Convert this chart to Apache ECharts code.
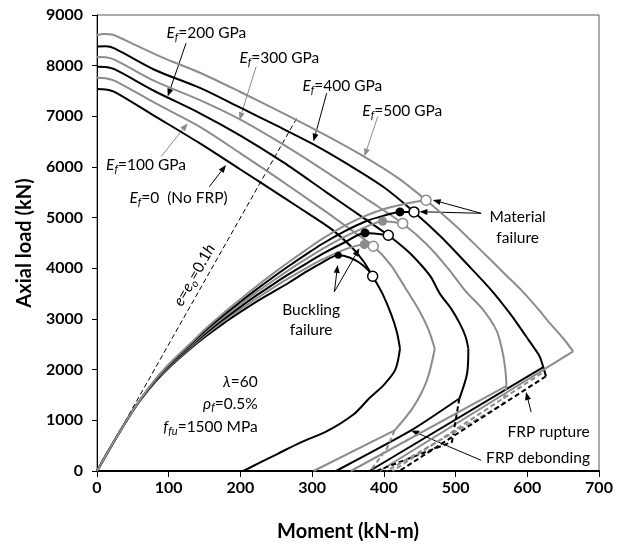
<!DOCTYPE html>
<html>
<head>
<meta charset="utf-8">
<script src="https://cdn.jsdelivr.net/npm/echarts@6/dist/echarts.min.js"></script>
<style>
html, body { margin: 0; padding: 0; background: #ffffff; }
#chart { width: 618px; height: 548px; }
</style>
</head>
<body>
<div id="chart"></div>
<script>
// Axis ticks
const momentTicks = [0, 100, 200, 300, 400, 500, 600, 700];
const loadTicks = [0, 1000, 2000, 3000, 4000, 5000, 6000, 7000, 8000, 9000];

// Section interaction curves (M in kN-m, P in kN), upper branch down to the max-moment tip
const sec0Upper = [[0,7540],[12,7530],[25,7480],[80,7010],[143.6,6465],[200,5950],[260,5400],[300,5030],[330,4740],[355,4420],[372,4130],[384.4,3843],[398,3500],[410,3100],[418,2750],[422.5,2414]];
const sec100Upper = [[0,7760],[12,7750],[25,7700],[80,7270],[143.6,6793],[200,6270],[260,5700],[320,5110],[360,4700],[386.7,4422],[410,4060],[432,3566],[450,3150],[462,2800],[471,2414]];
const sec200Upper = [[0,7980],[12,7972],[25,7925],[80,7500],[143.6,7060],[200,6620],[260,6090],[320,5500],[370,5010],[406.2,4653],[430,4380],[446,4159],[465,3840],[478,3501],[494,3200],[506,2908],[514,2650],[517.8,2414]];
const sec300Upper = [[0,8170],[12,8165],[25,8115],[80,7700],[143.6,7320],[200,6935],[260,6440],[320,5900],[380,5330],[426.3,4884],[460,4470],[490,3990],[513,3566],[539,3171],[557,2776],[564,2446],[569,2051],[571,1680]];
const sec400Upper = [[0,8380],[12,8382],[25,8335],[80,7920],[143.6,7560],[200,7170],[250,6820],[300,6460],[350,6050],[400,5600],[442,5114],[480,4620],[515,4100],[550,3566],[576,3105],[599,2644],[612,2380],[617.7,2249],[622.3,2051],[626,1870]];
const sec500Upper = [[0,8600],[10,8625],[22,8610],[50,8430],[90,8170],[143.6,7860],[200,7480],[260,7060],[320,6620],[373.7,6195],[420,5780],[459,5345],[500,4840],[540,4290],[570,3870],[592,3566],[615,3200],[632,2908],[650,2620],[664,2361]];

// Lower branches: FRP debonding (solid) and FRP rupture (dashed)
const sec0Lower = [[422.5,2414],[416,2000],[400,1700],[380,1440],[358,1120],[320,780],[285,570],[252,340],[204,0]];
const sec100Lower = [[471,2414],[460,1790],[441,1261],[415,800]];
const sec200Lower = [[517.8,2414],[516,1920],[505.3,1430]];
const sec100Debond = [[415,800],[302,0]];
const sec200Debond = [[505.3,1430],[438,800],[333.4,0]];
const sec300Debond = [[571,1680],[354,0]];
const sec400Debond = [[622.3,2051],[380,0]];
const sec500Debond = [[664,2361],[394,0]];
const sec100Rupture = [[415,800],[404,440],[381,0]];
const sec200Rupture = [[505.3,1430],[494.9,573],[389.4,0]];
const sec300Rupture = [[571,1680],[566,1320],[404,0]];
const sec400Rupture = [[626,1870],[421.7,0]];
const sec500Rupture = [[620,1930],[412,0]];

// Load paths of the slender column (lambda = 60) starting from the origin
const path0 = [[0,0],[20,495],[45,1075],[60,1390],[82,1770],[105,2100],[129,2400],[150,2640],[175,2900],[200,3140],[222,3340],[245,3530],[268,3720],[288,3900],[312,4100],[336.5,4258],[352,4215],[366,4110],[377,3980],[384.4,3843]];
const path100 = [[0,0],[20,495],[45,1078],[60,1393],[82,1780],[105,2115],[129,2420],[150,2670],[175,2940],[200,3190],[222,3400],[245,3610],[268,3810],[290,3990],[315,4180],[345,4370],[372.7,4470],[385.3,4435]];
const path200 = [[0,0],[20,495],[45,1080],[60,1396],[82,1790],[105,2130],[129,2440],[150,2700],[175,2980],[200,3240],[222,3460],[245,3680],[268,3890],[290,4080],[315,4290],[345,4510],[373.7,4699],[406.2,4653]];
const path300 = [[0,0],[20,495],[45,1082],[60,1399],[82,1800],[105,2145],[129,2460],[150,2730],[175,3020],[200,3290],[222,3520],[245,3750],[268,3970],[290,4170],[315,4390],[345,4620],[372,4800],[398.3,4930],[426.3,4884]];
const path400 = [[0,0],[20,495],[45,1084],[60,1402],[82,1810],[105,2160],[129,2480],[150,2760],[175,3060],[200,3340],[222,3580],[245,3820],[268,4050],[290,4260],[315,4490],[345,4730],[375,4930],[400,5040],[422.5,5114],[442,5114]];
const path500 = [[0,0],[20,495],[45,1086],[60,1405],[82,1820],[105,2175],[129,2500],[150,2790],[175,3100],[200,3390],[222,3640],[245,3890],[268,4130],[290,4350],[315,4590],[345,4840],[375,5040],[405,5190],[435,5290],[458.8,5345]];

// Failure points
const bucklingBlack = [[422.5,5114],[373.7,4699]];
const bucklingBlackSmall = [[336.5,4258]];
const bucklingGray = [[398.3,4930],[372.7,4470]];
const materialBlack = [[442,5114],[406.2,4653],[384.4,3843]];
const materialGray = [[458.8,5345],[426.3,4884],[385.3,4435]];

// Reference eccentricity line e = e0 = 0.1h
const eccLine = [[0,0],[280,7000]];

const BLACK = '#000000';
const GRAY = '#8c8c8c';
const FONT = 'Lato, "Open Sans", sans-serif';
const ANN = 15.5;

const chart = echarts.init(document.getElementById('chart'), null, { renderer: 'canvas' });

function lineSeries(data, color, opts) {
  opts = opts || {};
  return {
    type: 'line', data: data, showSymbol: false, symbol: 'none',
    smooth: opts.smooth === undefined ? 0.3 : opts.smooth,
    lineStyle: { color: color, width: opts.width || 2, type: opts.dashed ? [5, 3] : 'solid' },
    z: opts.z || 3, silent: true, animation: false
  };
}
function scatterSeries(data, size, fill, stroke, z) {
  return {
    type: 'scatter', data: data, symbol: 'circle', symbolSize: size,
    itemStyle: { color: fill, borderColor: stroke, borderWidth: stroke ? 1.5 : 0, opacity: 1 },
    z: z || 5, silent: true, animation: false
  };
}

const series = [
  lineSeries(eccLine, BLACK, { width: 1, dashed: true, smooth: false }),
  lineSeries(sec0Upper, BLACK), lineSeries(sec100Upper, GRAY), lineSeries(sec200Upper, BLACK),
  lineSeries(sec300Upper, GRAY), lineSeries(sec400Upper, BLACK), lineSeries(sec500Upper, GRAY),
  lineSeries(sec0Lower, BLACK), lineSeries(sec100Lower, GRAY), lineSeries(sec200Lower, BLACK),
  lineSeries(sec100Debond, GRAY, { smooth: false }), lineSeries(sec200Debond, BLACK, { smooth: 0.2 }),
  lineSeries(sec300Debond, GRAY, { smooth: false }),
  lineSeries(sec400Debond, BLACK, { smooth: false }), lineSeries(sec500Debond, GRAY, { smooth: false }),
  lineSeries(sec100Rupture, GRAY, { dashed: true, smooth: false }), lineSeries(sec200Rupture, BLACK, { dashed: true, smooth: false }),
  lineSeries(sec300Rupture, GRAY, { dashed: true, smooth: false }),
  lineSeries(sec400Rupture, BLACK, { dashed: true, smooth: false }), lineSeries(sec500Rupture, GRAY, { dashed: true, smooth: false }),
  lineSeries(path0, BLACK), lineSeries(path100, GRAY), lineSeries(path200, BLACK),
  lineSeries(path300, GRAY), lineSeries(path400, BLACK), lineSeries(path500, GRAY),
  scatterSeries(bucklingBlack, 9, BLACK, null),
  scatterSeries(bucklingBlackSmall, 7, BLACK, null),
  scatterSeries(bucklingGray, 9, GRAY, null),
  scatterSeries(materialBlack, 10, '#ffffff', BLACK),
  scatterSeries(materialGray, 10, '#ffffff', GRAY)
];

chart.setOption({
  animation: false,
  backgroundColor: '#ffffff',
  grid: { left: 97, right: 19, top: 15, bottom: 77, show: true, borderColor: '#595959', borderWidth: 1, backgroundColor: 'transparent' },
  xAxis: {
    type: 'value', min: momentTicks[0], max: momentTicks[momentTicks.length - 1], interval: 100,
    name: 'Moment (kN-m)', nameLocation: 'middle', nameGap: 51,
    nameTextStyle: { fontFamily: FONT, fontWeight: 'bold', fontSize: 20, color: '#000' },
    axisLine: { onZero: false, lineStyle: { color: '#000', width: 2 } },
    axisTick: { show: true, inside: false, length: 6, lineStyle: { color: '#000', width: 1 } },
    axisLabel: { fontFamily: FONT, fontWeight: 'bold', fontSize: 16, color: '#000', margin: 9, formatter: v => String(v) },
    splitLine: { show: false }
  },
  yAxis: {
    type: 'value', min: loadTicks[0], max: loadTicks[loadTicks.length - 1], interval: 1000,
    name: 'Axial load (kN)', nameLocation: 'middle', nameGap: 56,
    nameTextStyle: { fontFamily: FONT, fontWeight: 'bold', fontSize: 20, color: '#000' },
    axisLine: { lineStyle: { color: '#000', width: 1 } },
    axisTick: { show: true, inside: false, length: 5, lineStyle: { color: '#000', width: 1 } },
    axisLabel: { fontFamily: FONT, fontWeight: 'bold', fontSize: 16, color: '#000', margin: 14, formatter: v => String(v) },
    splitLine: { show: false }
  },
  series: series
});

// ---- Annotations ----
const measureCtx = document.createElement('canvas').getContext('2d');
function textWidth(str, font) { measureCtx.font = font; return measureCtx.measureText(str).width; }

// runs: [{t, italic, sub}] laid out left to right as separate text pieces
function runElements(runs, size, color, align, x0, y0) {
  const parts = runs.map(r => {
    const fs = r.sub ? Math.round(size * 0.72) : size;
    const font = (r.italic ? 'italic ' : '') + fs + 'px ' + FONT;
    return { r: r, font: font, w: textWidth(r.t, font) };
  });
  const total = parts.reduce((s, p) => s + p.w, 0);
  let x = x0;
  if (align === 'right') x = x0 - total;
  else if (align === 'center') x = x0 - total / 2;
  const out = [];
  parts.forEach(p => {
    out.push({
      type: 'text', silent: true,
      style: { text: p.r.t, x: x, y: y0 + (p.r.sub ? size * 0.28 : 0), font: p.font, fill: color, textAlign: 'left', textVerticalAlign: 'middle' }
    });
    x += p.w;
  });
  return out;
}

function px(pt) { return chart.convertToPixel({ gridIndex: 0 }, pt); }

function arrow(from, to, color) {
  const a = px(from), b = px(to);
  const ang = Math.atan2(b[1] - a[1], b[0] - a[0]);
  const L = 8, W = 3;
  const bx = b[0] - L * Math.cos(ang), by = b[1] - L * Math.sin(ang);
  const nx = -Math.sin(ang), ny = Math.cos(ang);
  return [
    { type: 'line', silent: true, shape: { x1: a[0], y1: a[1], x2: bx, y2: by }, style: { stroke: color, lineWidth: 1 } },
    { type: 'polygon', silent: true, shape: { points: [[b[0], b[1]], [bx + nx * W, by + ny * W], [bx - nx * W, by - ny * W]] }, style: { fill: color } }
  ];
}

function label(pt, runs, color, align, size) {
  const p = px(pt);
  return runElements(runs, size || ANN, color, align || 'left', p[0], p[1]);
}

const Ef = [{ t: 'E', italic: true }, { t: 'f', italic: true, sub: true }];
let g = [];
g = g.concat(label([96.8, 8645], Ef.concat([{ t: '=200 GPa' }]), BLACK));
g = g.concat(arrow([124.2, 8445], [98.6, 7390], BLACK));
g = g.concat(label([198.6, 8155], Ef.concat([{ t: '=300 GPa' }]), BLACK));
g = g.concat(arrow([221.9, 7983], [198.6, 6924], GRAY));
g = g.concat(label([286.4, 7602], Ef.concat([{ t: '=400 GPa' }]), BLACK));
g = g.concat(arrow([320.3, 7457], [301.8, 6501], BLACK));
g = g.concat(label([370, 7108], Ef.concat([{ t: '=500 GPa' }]), BLACK));
g = g.concat(arrow([391.4, 6995], [372.9, 6205], GRAY));
g = g.concat(label([12.7, 6041], Ef.concat([{ t: '=100 GPa' }]), BLACK));
g = g.concat(arrow([89.4, 6205], [126.5, 6865], GRAY));
g = g.concat(label([45.2, 5389], Ef.concat([{ t: '=0  (No FRP)' }]), BLACK));
g = g.concat(arrow([156.7, 5612], [180, 6041], BLACK));

g = g.concat(label([298.6, 3175], [{ t: 'Buckling' }], BLACK, 'center'));
g = g.concat(label([298.6, 2780], [{ t: 'failure' }], BLACK, 'center'));
g = g.concat(arrow([331, 3537], [335.6, 4065], BLACK));
g = g.concat(arrow([331, 3537], [365.9, 4395], BLACK));

g = g.concat(label([586.6, 5019], [{ t: 'Material' }], BLACK, 'center'));
g = g.concat(label([586.6, 4592], [{ t: 'failure' }], BLACK, 'center'));
g = g.concat(arrow([535.6, 5086], [468.1, 5349], BLACK));
g = g.concat(arrow([535.6, 5086], [449.6, 5118], BLACK));

g = g.concat(label([224.1, 1759], [{ t: 'λ', italic: true }, { t: '=60' }], BLACK, 'right'));
g = g.concat(label([224.1, 1332], [{ t: 'ρ', italic: true }, { t: 'f', italic: true, sub: true }, { t: '=0.5%' }], BLACK, 'right'));
g = g.concat(label([224.1, 869], [{ t: 'f', italic: true }, { t: 'fu', italic: true, sub: true }, { t: '=1500 MPa' }], BLACK, 'right'));

g = g.concat(label([572.3, 771], [{ t: 'FRP rupture' }], BLACK, 'left'));
g = g.concat(arrow([605.3, 1166], [598.3, 1561], BLACK));
g = g.concat(label([542.6, 265], [{ t: 'FRP debonding' }], BLACK, 'left'));
g = g.concat(arrow([535.6, 211], [438, 800], BLACK));

// rotated eccentricity label along the dashed line
(function () {
  const c = px([135.8, 3868]);
  const a = px([0, 0]), b = px([280, 7000]);
  const rot = Math.atan2(a[1] - b[1], b[0] - a[0]);
  const kids = runElements([{ t: 'e', italic: true }, { t: '=' }, { t: 'e', italic: true }, { t: 'o', italic: true, sub: true }, { t: '=0.1' }, { t: 'h', italic: true }], ANN, BLACK, 'center', 0, 0);
  g.push({ type: 'group', x: c[0], y: c[1], rotation: rot, silent: true, children: kids });
})();

chart.setOption({ graphic: { elements: g } });
</script>
</body>
</html>
